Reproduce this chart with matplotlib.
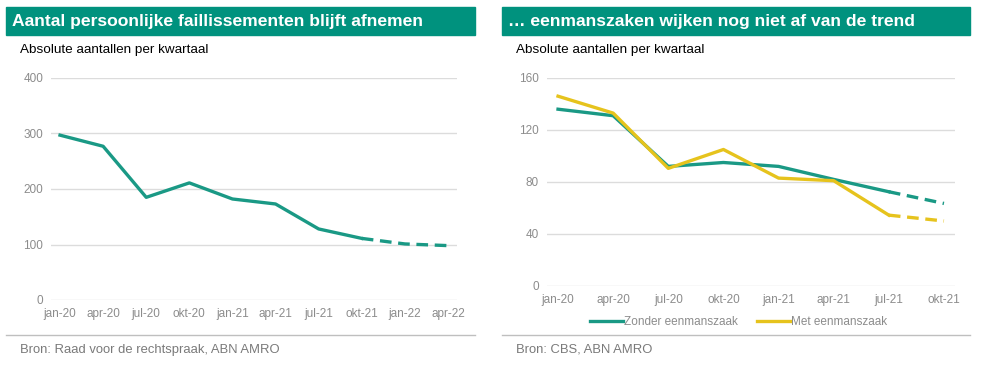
import matplotlib.pyplot as plt
from matplotlib.patches import Rectangle

plt.rcParams['font.family'] = ['Liberation Sans', 'DejaVu Sans']

# linker grafiek: persoonlijke faillissementen
kwartalen_l = ['jan-20', 'apr-20', 'jul-20', 'okt-20', 'jan-21',
               'apr-21', 'jul-21', 'okt-21', 'jan-22', 'apr-22']
faillissementen = [297, 277, 185, 211, 182, 173, 128, 111, 101, 98]
laatste_echt_l = 7  # okt-21, daarna raming

# rechter grafiek: met / zonder eenmanszaak
kwartalen_r = ['jan-20', 'apr-20', 'jul-20', 'okt-20', 'jan-21',
               'apr-21', 'jul-21', 'okt-21']
zonder_eenmanszaak = [136, 131, 92, 95, 92, 82, 72.5, 63.5]
met_eenmanszaak = [146, 133, 90.5, 105, 83, 81, 54.5, 50]
laatste_echt_r = 6  # jul-21

TEAL_BAR = '#00927e'
TEAL = '#1a9985'
GEEL = '#e6c31d'
GRIJS = '#8c8c8c'

W, H = 984, 367
fig = plt.figure(figsize=(W / 100, H / 100), dpi=100)


def px_box(x0, y0, x1, y1):
    return [x0 / W, 1 - y1 / H, (x1 - x0) / W, (y1 - y0) / H]


def kop(x0, x1, titel, bron):
    fig.patches.append(Rectangle((x0 / W, 1 - 35 / H), (x1 - x0) / W, 28 / H,
                                 transform=fig.transFigure, color=TEAL_BAR, zorder=0))
    fig.text((x0 + 6) / W, 1 - 21.5 / H, titel, color='white', fontsize=12.6,
             fontweight='bold', va='center')
    fig.text((x0 + 14) / W, 1 - 49.5 / H, 'Absolute aantallen per kwartaal',
             fontsize=9.7, va='center', color='black')
    fig.add_artist(plt.Line2D([x0 / W, x1 / W], [1 - 335 / H, 1 - 335 / H],
                              color='#bfbfbf', lw=1))
    fig.text((x0 + 14) / W, 1 - 350 / H, bron, fontsize=9.4, va='center',
             color='#7a7a7a')


def opmaak(ax, labels, ymax, stap):
    ax.set_ylim(0, ymax)
    ax.set_yticks(range(0, ymax + 1, stap))
    ax.set_xticks(range(len(labels)))
    ax.set_xticklabels(labels)
    ax.grid(axis='y', color='#dcdcdc', lw=1)
    ax.set_axisbelow(True)
    for s in ax.spines.values():
        s.set_visible(False)
    ax.tick_params(length=0, colors=GRIJS, labelsize=8.5, pad=6)


# links
kop(6, 475, 'Aantal persoonlijke faillissementen blijft afnemen',
    'Bron: Raad voor de rechtspraak, ABN AMRO')
ax1 = fig.add_axes(px_box(51.4, 78, 456.6, 300))
x_l = list(range(len(kwartalen_l)))
ax1.plot(x_l[:laatste_echt_l + 1], faillissementen[:laatste_echt_l + 1],
         color=TEAL, lw=2.4, solid_joinstyle='round')
ax1.plot(x_l[laatste_echt_l:], faillissementen[laatste_echt_l:],
         color=TEAL, lw=2.4, ls=(0, (3.5, 2)))
ax1.set_xlim(-0.2, 9.2)
opmaak(ax1, kwartalen_l, 400, 100)

# rechts
kop(502, 970, '\u2026 eenmanszaken wijken nog niet af van de trend',
    'Bron: CBS, ABN AMRO')
ax2 = fig.add_axes(px_box(547, 78, 955, 286))
x_r = list(range(len(kwartalen_r)))
ax2.plot(x_r[:laatste_echt_r + 1], zonder_eenmanszaak[:laatste_echt_r + 1],
         color=TEAL, lw=2.4, label='Zonder eenmanszaak')
ax2.plot(x_r[laatste_echt_r:], zonder_eenmanszaak[laatste_echt_r:],
         color=TEAL, lw=2.4, ls=(0, (3.5, 2)))
ax2.plot(x_r[:laatste_echt_r + 1], met_eenmanszaak[:laatste_echt_r + 1],
         color=GEEL, lw=2.4, label='Met eenmanszaak')
ax2.plot(x_r[laatste_echt_r:], met_eenmanszaak[laatste_echt_r:],
         color=GEEL, lw=2.4, ls=(0, (3.5, 2)))
ax2.set_xlim(-0.2, 7.2)
opmaak(ax2, kwartalen_r, 160, 40)
leg = ax2.legend(loc='upper center', bbox_to_anchor=(0.47, -0.095), ncol=2,
                 frameon=False, fontsize=8.5, handlelength=2.8, handletextpad=0.1,
                 columnspacing=1.6)
for t in leg.get_texts():
    t.set_color(GRIJS)

fig.savefig('out.png', dpi=100)
